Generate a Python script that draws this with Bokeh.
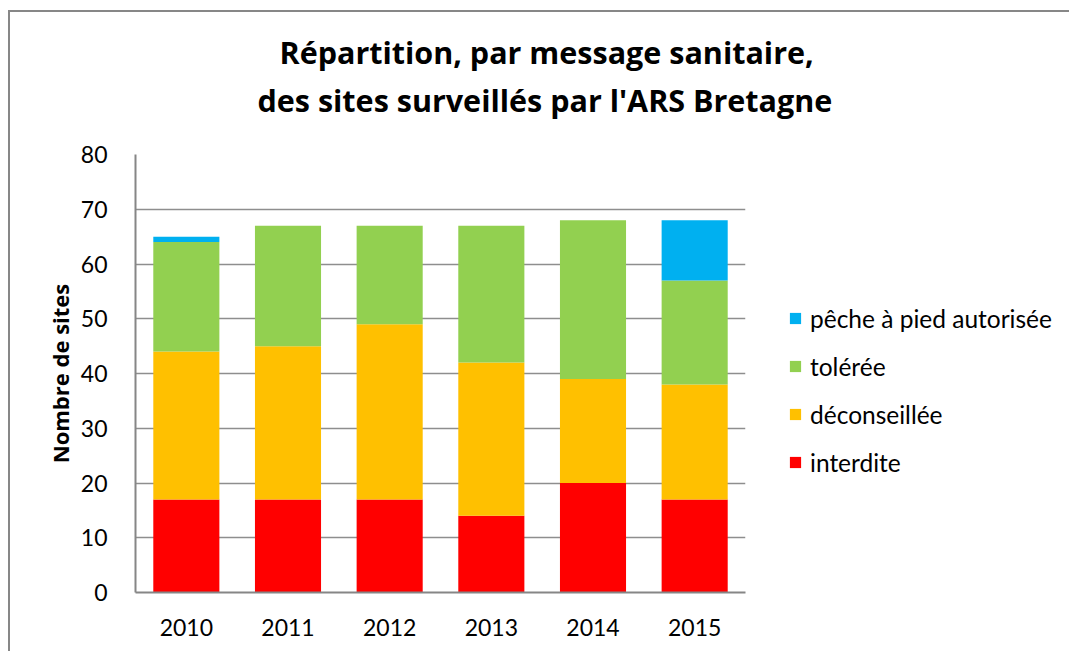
from bokeh.plotting import figure
from bokeh.models import ColumnDataSource, Legend, LegendItem, Title, FactorRange, Range1d, FixedTicker
from bokeh.embed import file_html
from bokeh.resources import INLINE

years = ["2010", "2011", "2012", "2013", "2014", "2015"]
interdite = [17, 17, 17, 14, 20, 17]
deconseillee = [27, 28, 32, 28, 19, 21]
toleree = [20, 22, 18, 25, 29, 19]
peche = [1, 0, 0, 0, 0, 11]
series_keys = ["interdite", "deconseillee", "toleree", "peche"]
series_names = ["interdite", "déconseillée", "tolérée", "pêche à pied autorisée"]
colors = ["#FF0000", "#FFC000", "#92D050", "#00B0F0"]
y_ticks = [0, 10, 20, 30, 40, 50, 60, 70, 80]
title_line1 = "Répartition, par message sanitaire,"
title_line2 = "des sites surveillés par l'ARS Bretagne"
y_label = "Nombre de sites"

source = ColumnDataSource(dict(year=years, interdite=interdite, deconseillee=deconseillee,
                               toleree=toleree, peche=peche))

FONT = "Lato"
TFONT = "Open Sans"

p = figure(x_range=FactorRange(factors=years), y_range=Range1d(0, 80),
           frame_width=610, frame_height=438, output_backend="svg", toolbar_location=None,
           min_border_left=125, min_border_right=324, min_border_bottom=59, min_border_top=0)
p.styles = {"margin-left": "8px", "margin-top": "10px",
            "border-left": "2px solid #878787", "border-top": "2px solid #878787"}

renderers = p.vbar_stack(series_keys, x="year", width=0.65, color=colors, source=source,
                         line_color=None)

# titles (innermost first)
p.add_layout(Title(text=" ", text_font_size="1px", standoff=29), "above")
p.add_layout(Title(text=title_line2, text_font=TFONT, text_font_size="30.5px", text_font_style="bold",
                   text_color="black", align="left", offset=122, standoff=4), "above")
p.add_layout(Title(text=title_line1, text_font=TFONT, text_font_size="30.5px", text_font_style="bold",
                   text_color="black", align="left", offset=144, standoff=3), "above")
p.add_layout(Title(text=" ", text_font_size="1px", standoff=12), "above")

items = [LegendItem(label=series_names[i], renderers=[renderers[i]]) for i in range(3, -1, -1)]
legend = Legend(items=items, location="top_left", orientation="vertical",
                title=" ", title_text_font_size="1px", title_standoff=105,
                label_text_font=FONT, label_text_font_size="24.5px", label_text_color="black",
                glyph_width=14, glyph_height=14, label_height=30, spacing=18,
                label_standoff=8, padding=0, margin=43, border_line_color=None,
                background_fill_alpha=0)
p.add_layout(legend, "right")

p.outline_line_color = None
p.xgrid.grid_line_color = None
p.ygrid.grid_line_color = "#8E8E8E"
p.ygrid.grid_line_width = 1.5
p.yaxis.ticker = FixedTicker(ticks=y_ticks)

for ax in (p.xaxis[0], p.yaxis[0]):
    ax.axis_line_color = "#868686"
    ax.axis_line_width = 2
    ax.major_tick_line_color = None
    ax.minor_tick_line_color = None
    ax.major_label_text_font = FONT
    ax.major_label_text_font_size = "23px"
    ax.major_label_text_color = "black"

p.xaxis.major_label_standoff = 20
p.yaxis.major_label_standoff = 22
p.yaxis.axis_label = y_label
p.yaxis.axis_label_text_font = TFONT
p.yaxis.axis_label_text_font_size = "22px"
p.yaxis.axis_label_text_font_style = "bold"
p.yaxis.axis_label_text_color = "black"
p.yaxis.axis_label_standoff = 3

open("out.html", "w").write(file_html(p, INLINE))
